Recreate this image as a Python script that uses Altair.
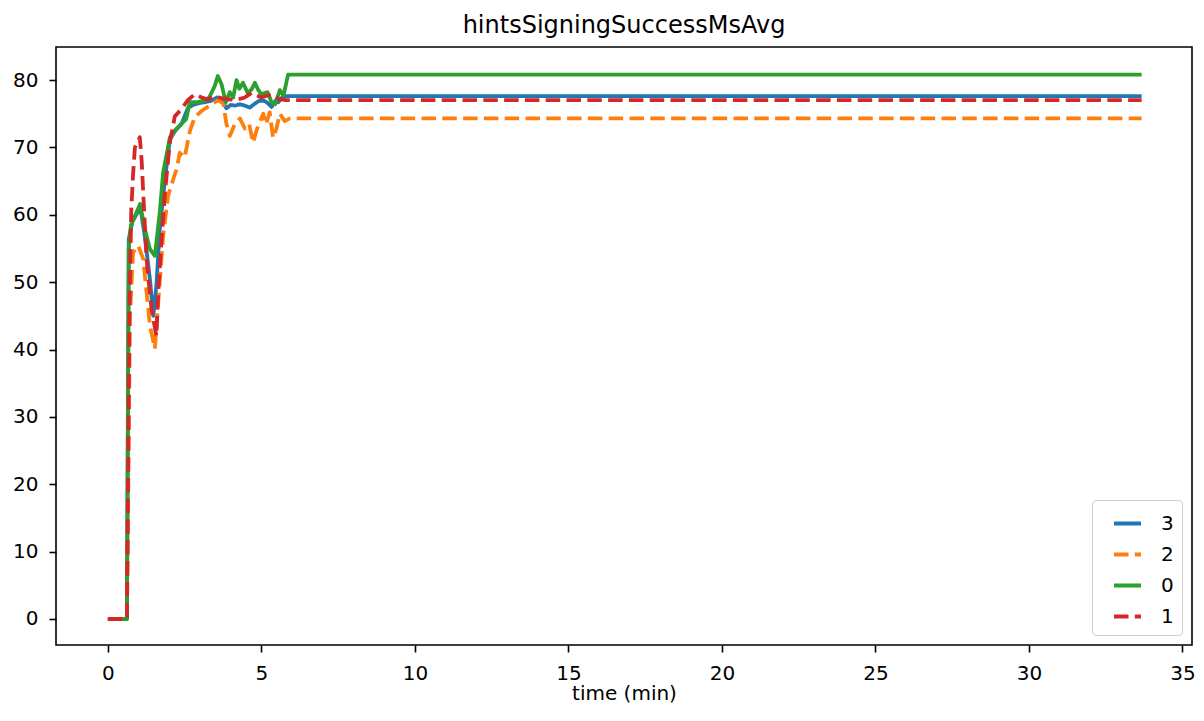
import altair as alt
import pandas as pd

series_names = ["3", "2", "0", "1"]
colors = ["#1f77b4", "#ff7f0e", "#2ca02c", "#d62728"]
dashes = [[1, 0], [14.5, 6.3], [1, 0], [14.5, 6.3]]

x_ticks = [0, 5, 10, 15, 20, 25, 30, 35]
y_ticks = [0, 10, 20, 30, 40, 50, 60, 70, 80]

# series "3"
t3 = [0, 0.62, 0.68, 0.80, 0.95, 1.05, 1.20, 1.37, 1.48, 1.58, 1.69, 1.86, 2.02, 2.20, 2.40,
      2.61, 2.83, 3.00, 3.16, 3.35, 3.55, 3.72, 3.86, 4.00, 4.14, 4.30, 4.46, 4.62, 4.79, 4.92,
      5.10, 5.20, 5.33, 5.45, 5.55, 5.71, 33.67]
v3 = [0, 0, 56.4, 59.0, 60.2, 61.2, 56.9, 50.4, 45.0, 49.5, 57.9, 65.3, 71.2, 72.5, 73.5,
      75.9, 76.4, 76.6, 76.7, 76.9, 77.4, 77.0, 75.8, 76.3, 76.2, 76.4, 76.2, 75.9, 76.5, 76.9,
      76.9, 76.6, 76.0, 76.9, 76.7, 77.6, 77.6]

# series "2"
t2 = [0, 0.62, 0.72, 0.82, 0.99, 1.15, 1.26, 1.37, 1.53, 1.64, 1.80, 1.96, 2.13, 2.24, 2.34,
      2.50, 2.67, 2.83, 3.05, 3.38, 3.59, 3.76, 3.86, 3.97, 4.14, 4.30, 4.46, 4.60, 4.73, 4.84,
      4.95, 5.06, 5.15, 5.27, 5.38, 5.49, 5.60, 5.76, 5.93, 33.67]
v2 = [0, 0, 45.0, 54.4, 55.4, 53.4, 48.5, 43.5, 40.1, 47.0, 56.9, 62.8, 65.3, 66.8, 69.2,
      68.5, 72.4, 74.5, 75.4, 76.4, 77.0, 76.5, 73.5, 71.7, 73.5, 74.3, 72.8, 73.5, 70.7, 72.5,
      73.8, 75.0, 73.4, 75.2, 71.4, 72.8, 75.0, 73.9, 74.3, 74.3]

# series "0"
t0 = [0, 0.62, 0.68, 0.75, 0.88, 1.05, 1.20, 1.37, 1.53, 1.69, 1.80, 2.02, 2.18, 2.44, 2.55,
      2.67, 2.90, 3.10, 3.30, 3.48, 3.58, 3.70, 3.84, 3.97, 4.08, 4.19, 4.28, 4.40, 4.55, 4.68,
      4.79, 4.90, 5.00, 5.20, 5.33, 5.45, 5.60, 5.72, 5.87, 33.67]
v0 = [0, 0, 55.0, 58.5, 59.8, 61.6, 57.9, 54.9, 53.9, 60.4, 66.3, 71.5, 72.5, 73.7, 74.2,
      76.7, 76.7, 76.9, 77.4, 79.1, 80.6, 79.4, 76.7, 78.2, 77.4, 80.0, 78.7, 79.6, 78.1, 78.6,
      79.6, 78.5, 77.9, 78.2, 76.7, 76.4, 78.5, 77.7, 80.8, 80.8]

# series "1"
t1 = [0, 0.62, 0.70, 0.76, 0.82, 0.88, 1.04, 1.10, 1.15, 1.26, 1.42, 1.58, 1.64, 1.75, 1.86,
      2.02, 2.18, 2.40, 2.60, 2.83, 3.06, 3.26, 3.48, 3.70, 4.00, 4.30, 4.46, 4.68, 5.00, 5.33,
      5.55, 5.80, 33.67]
v1 = [0, 0, 45.0, 60.5, 66.0, 70.0, 71.5, 68.0, 63.3, 53.4, 46.0, 42.0, 48.5, 56.4, 63.3,
      70.8, 74.6, 75.7, 77.0, 77.9, 77.4, 77.1, 77.6, 77.3, 77.1, 77.2, 77.4, 78.1, 77.4, 77.9,
      77.2, 77.0, 77.0]

rows = []
for name, ts, vs in [("3", t3, v3), ("2", t2, v2), ("0", t0, v0), ("1", t1, v1)]:
    for i, (t, v) in enumerate(zip(ts, vs)):
        rows.append({"series": name, "t": t, "v": v, "i": i})
df = pd.DataFrame(rows)

FONT = "DejaVu Sans"
color_scale = alt.Scale(domain=series_names, range=colors)
dash_scale = alt.Scale(domain=series_names, range=dashes)
leg = alt.Legend(title=None, orient="bottom-right", offset=10, padding=8,
                 strokeColor="#cccccc", cornerRadius=4, fillColor="white",
                 labelFontSize=20, labelFont=FONT, labelColor="black",
                 symbolType="stroke", symbolSize=729, symbolStrokeWidth=3.8,
                 symbolOffset=12, rowPadding=5, labelOffset=18)

layers = []
for name in series_names:
    layers.append(
        alt.Chart(df)
        .transform_filter(alt.datum.series == name)
        .mark_line(strokeWidth=3.8, strokeJoin="round", strokeCap="butt")
        .encode(
            x=alt.X("t:Q", scale=alt.Scale(domain=[-1.69, 35.31], nice=False, zero=False),
                    axis=alt.Axis(values=x_ticks, format="d", title="time (min)",
                                  labelPadding=11, titlePadding=0)),
            y=alt.Y("v:Q", scale=alt.Scale(domain=[-3.86, 84.9], nice=False, zero=False),
                    axis=alt.Axis(values=y_ticks, format="d", title=None, labelPadding=11)),
            color=alt.Color("series:N", scale=color_scale, legend=leg),
            strokeDash=alt.StrokeDash("series:N", scale=dash_scale, legend=leg),
            order="i:Q",
        )
    )

chart = (
    alt.layer(*layers)
    .properties(
        width=1136, height=598,
        title=alt.TitleParams("hintsSigningSuccessMsAvg", font=FONT, fontSize=24,
                              fontWeight="normal", color="black", offset=9),
        autosize=alt.AutoSizeParams(type="none"),
        padding={"left": 48, "top": 39, "right": 4, "bottom": 62},
    )
    .configure_axis(labelFont=FONT, labelFontSize=20, labelColor="black",
                    tickColor="black", tickWidth=1.6, tickSize=7, domain=False, grid=False,
                    titleFont=FONT, titleFontSize=20, titleColor="black",
                    titleFontWeight="normal")
    .configure_view(stroke="black", strokeWidth=1.6)
)

chart.save("out.html", embed_options={"renderer": "svg", "actions": False})
